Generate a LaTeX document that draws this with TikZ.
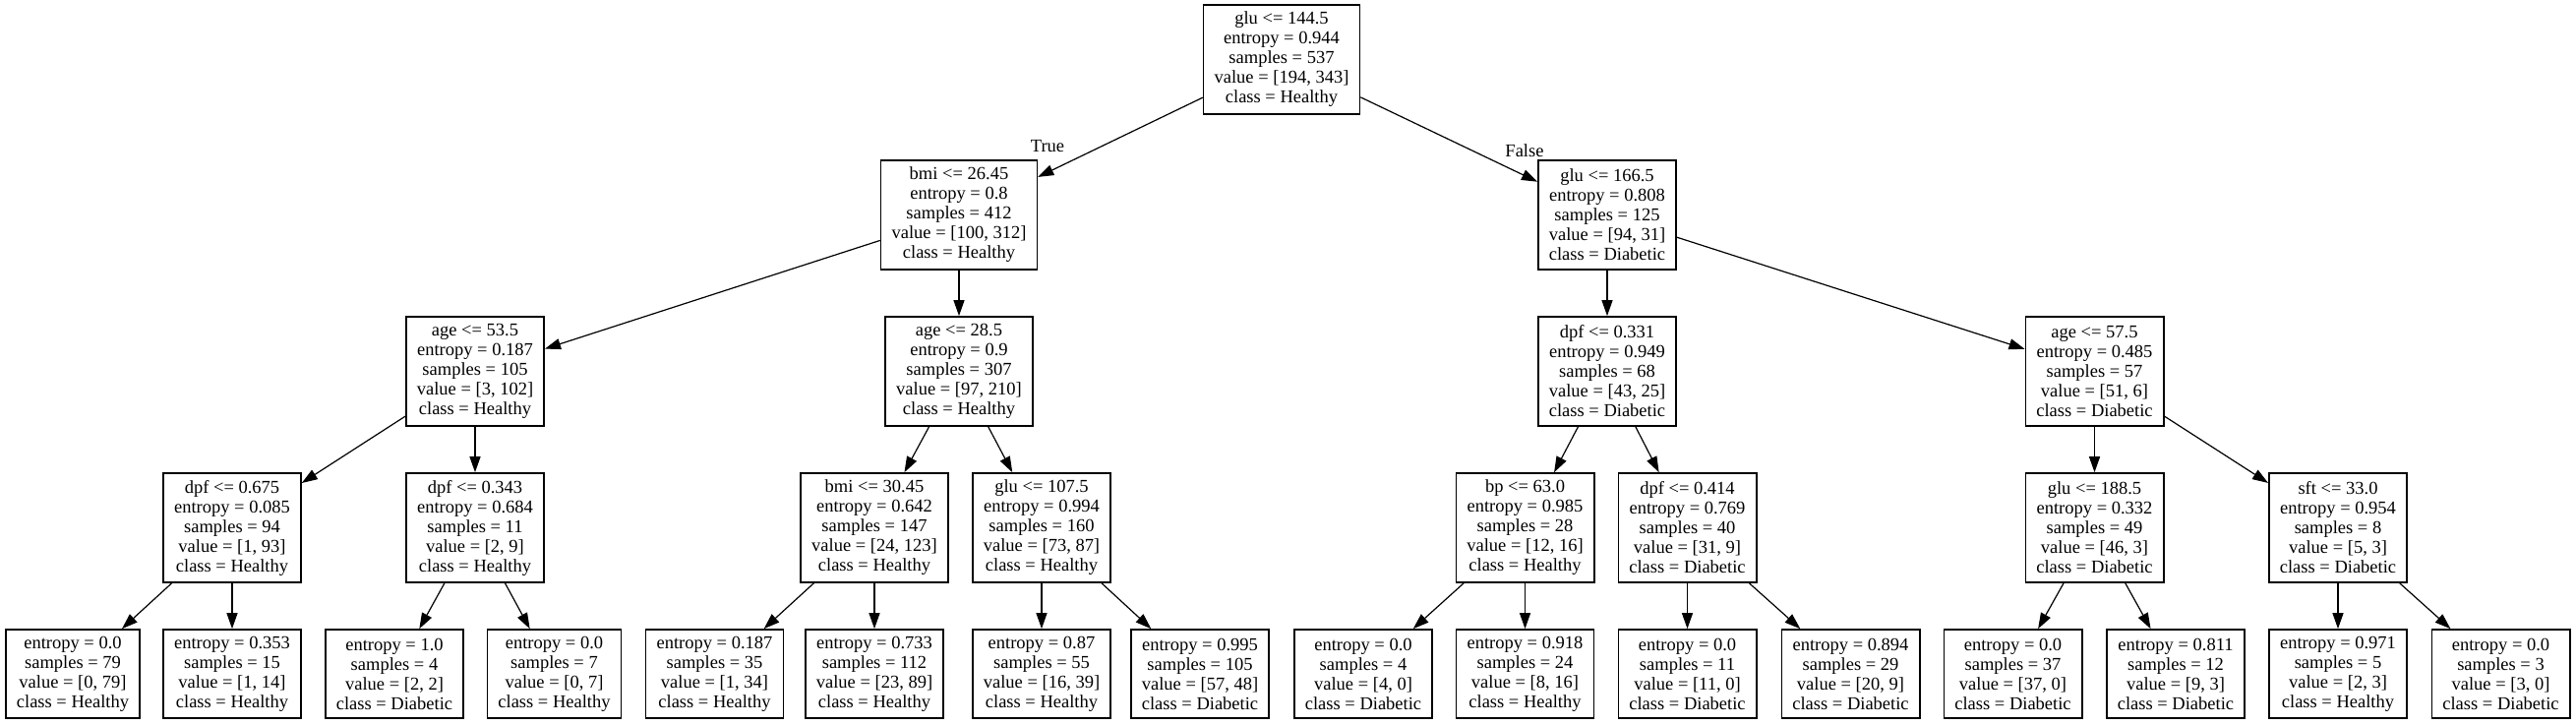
\documentclass[tikz,border=0pt]{standalone}
\usepackage{fontspec}
\setmainfont{Liberation Serif}
\usetikzlibrary{arrows.meta}

\begin{document}
\begin{tikzpicture}[x=0.5pt, y=-0.5pt,
  split/.style={draw, line width=0.85pt, align=center, font=\fontsize{9.25}{10}\selectfont,
    inner xsep=5.5pt, inner ysep=0pt, minimum height=55.5pt},
  leaf/.style={split, minimum height=45pt},
  edge/.style={-{Triangle[length=8pt, width=5.5pt]}, line width=0.6pt}]
  \useasboundingbox (0,0) rectangle (2619,736);

  % level 0 and 1
  \node[split] (root) at (1303,60.5) {glu <= 144.5\\entropy = 0.944\\samples = 537\\value = [194, 343]\\class = Healthy};
  \node[split] (bmiA) at (975,218.5) {bmi <= 26.45\\entropy = 0.8\\samples = 412\\value = [100, 312]\\class = Healthy};
  \node[split] (gluB) at (1634,218.5) {glu <= 166.5\\entropy = 0.808\\samples = 125\\value = [94, 31]\\class = Diabetic};

  % level 2
  \node[split] (ageA) at (483,377.5) {age <= 53.5\\entropy = 0.187\\samples = 105\\value = [3, 102]\\class = Healthy};
  \node[split] (ageB) at (975,377.5) {age <= 28.5\\entropy = 0.9\\samples = 307\\value = [97, 210]\\class = Healthy};
  \node[split] (dpfA) at (1634,377.5) {dpf <= 0.331\\entropy = 0.949\\samples = 68\\value = [43, 25]\\class = Diabetic};
  \node[split] (ageC) at (2129.5,377.5) {age <= 57.5\\entropy = 0.485\\samples = 57\\value = [51, 6]\\class = Diabetic};

  % level 3
  \node[split] (dpfB) at (236,536.5) {dpf <= 0.675\\entropy = 0.085\\samples = 94\\value = [1, 93]\\class = Healthy};
  \node[split] (dpfC) at (483,536.5) {dpf <= 0.343\\entropy = 0.684\\samples = 11\\value = [2, 9]\\class = Healthy};
  \node[split] (bmiB) at (889,536.5) {bmi <= 30.45\\entropy = 0.642\\samples = 147\\value = [24, 123]\\class = Healthy};
  \node[split] (gluC) at (1059,536.5) {glu <= 107.5\\entropy = 0.994\\samples = 160\\value = [73, 87]\\class = Healthy};
  \node[split] (bpA) at (1550.5,536.5) {bp <= 63.0\\entropy = 0.985\\samples = 28\\value = [12, 16]\\class = Healthy};
  \node[split] (dpfD) at (1715.5,536.5) {dpf <= 0.414\\entropy = 0.769\\samples = 40\\value = [31, 9]\\class = Diabetic};
  \node[split] (gluD) at (2129.5,536.5) {glu <= 188.5\\entropy = 0.332\\samples = 49\\value = [46, 3]\\class = Diabetic};
  \node[split] (sftA) at (2377,536.5) {sft <= 33.0\\entropy = 0.954\\samples = 8\\value = [5, 3]\\class = Diabetic};

  % leaves
  \node[leaf] (l1) at (74,685) {entropy = 0.0\\samples = 79\\value = [0, 79]\\class = Healthy};
  \node[leaf] (l2) at (236,685) {entropy = 0.353\\samples = 15\\value = [1, 14]\\class = Healthy};
  \node[leaf] (l3) at (401,685) {entropy = 1.0\\samples = 4\\value = [2, 2]\\class = Diabetic};
  \node[leaf] (l4) at (563.5,685) {entropy = 0.0\\samples = 7\\value = [0, 7]\\class = Healthy};
  \node[leaf] (l5) at (726.5,685) {entropy = 0.187\\samples = 35\\value = [1, 34]\\class = Healthy};
  \node[leaf] (l6) at (889,685) {entropy = 0.733\\samples = 112\\value = [23, 89]\\class = Healthy};
  \node[leaf] (l7) at (1059,685) {entropy = 0.87\\samples = 55\\value = [16, 39]\\class = Healthy};
  \node[leaf] (l8) at (1220,685) {entropy = 0.995\\samples = 105\\value = [57, 48]\\class = Diabetic};
  \node[leaf] (l9) at (1386,685) {entropy = 0.0\\samples = 4\\value = [4, 0]\\class = Diabetic};
  \node[leaf] (l10) at (1550.5,685) {entropy = 0.918\\samples = 24\\value = [8, 16]\\class = Healthy};
  \node[leaf] (l11) at (1715.5,685) {entropy = 0.0\\samples = 11\\value = [11, 0]\\class = Diabetic};
  \node[leaf] (l12) at (1881.5,685) {entropy = 0.894\\samples = 29\\value = [20, 9]\\class = Diabetic};
  \node[leaf] (l13) at (2046.5,685) {entropy = 0.0\\samples = 37\\value = [37, 0]\\class = Diabetic};
  \node[leaf] (l14) at (2212,685) {entropy = 0.811\\samples = 12\\value = [9, 3]\\class = Diabetic};
  \node[leaf] (l15) at (2377,685) {entropy = 0.971\\samples = 5\\value = [2, 3]\\class = Healthy};
  \node[leaf] (l16) at (2542.5,685) {entropy = 0.0\\samples = 3\\value = [3, 0]\\class = Diabetic};

  % edges
  \draw[edge] (root) -- (bmiA);
  \draw[edge] (root) -- (gluB);
  \node[font=\fontsize{9.25}{10}\selectfont] (true) at (1065,149) {True};
  \node[font=\fontsize{9.25}{10}\selectfont] (false) at (1550,153) {False};
  \draw[edge] (bmiA) -- (ageA);
  \draw[edge] (bmiA) -- (ageB);
  \draw[edge] (gluB) -- (dpfA);
  \draw[edge] (gluB) -- (ageC);
  \draw[edge] (ageA) -- (dpfB);
  \draw[edge] (ageA) -- (dpfC);
  \draw[edge] (ageB) -- (bmiB);
  \draw[edge] (ageB) -- (gluC);
  \draw[edge] (dpfA) -- (bpA);
  \draw[edge] (dpfA) -- (dpfD);
  \draw[edge] (ageC) -- (gluD);
  \draw[edge] (ageC) -- (sftA);
  \draw[edge] (dpfB) -- (l1);
  \draw[edge] (dpfB) -- (l2);
  \draw[edge] (dpfC) -- (l3);
  \draw[edge] (dpfC) -- (l4);
  \draw[edge] (bmiB) -- (l5);
  \draw[edge] (bmiB) -- (l6);
  \draw[edge] (gluC) -- (l7);
  \draw[edge] (gluC) -- (l8);
  \draw[edge] (bpA) -- (l9);
  \draw[edge] (bpA) -- (l10);
  \draw[edge] (dpfD) -- (l11);
  \draw[edge] (dpfD) -- (l12);
  \draw[edge] (gluD) -- (l13);
  \draw[edge] (gluD) -- (l14);
  \draw[edge] (sftA) -- (l15);
  \draw[edge] (sftA) -- (l16);
\end{tikzpicture}
\end{document}
